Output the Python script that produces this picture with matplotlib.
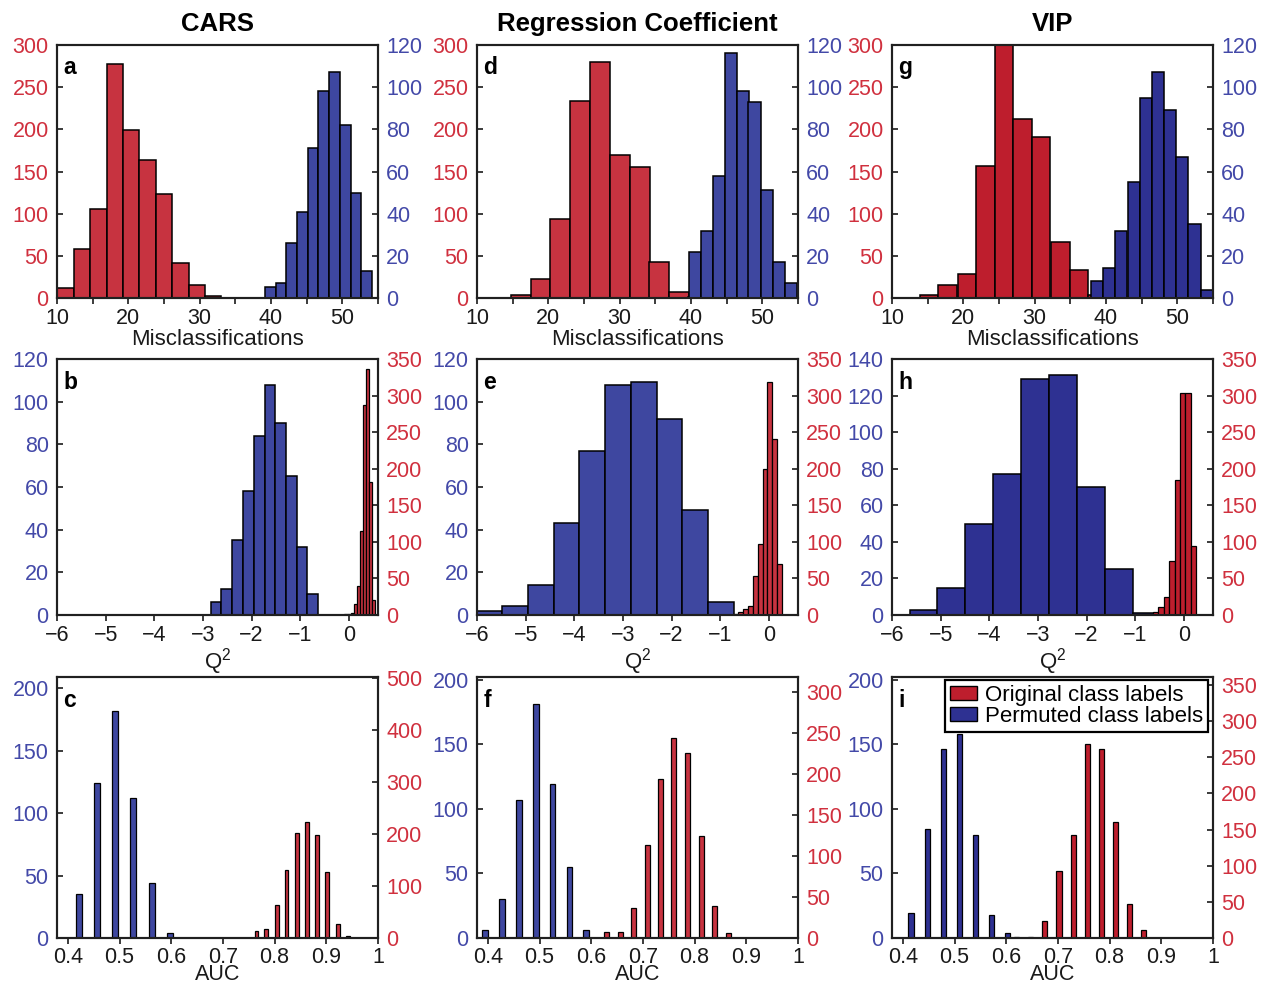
import numpy as np
import matplotlib
matplotlib.use("Agg")
import matplotlib.pyplot as plt
from matplotlib.patches import Patch

plt.rcParams['font.family'] = ['Liberation Sans', 'DejaVu Sans']
plt.rcParams['mathtext.fontset'] = 'custom'
plt.rcParams['mathtext.rm'] = 'Liberation Sans'
plt.rcParams['mathtext.it'] = 'Liberation Sans:italic'

column_titles = ["CARS", "Regression Coefficient", "VIP"]
panel_letters = [["a", "d", "g"], ["b", "e", "h"], ["c", "f", "i"]]
legend_labels = ["Original class labels", "Permuted class labels"]
row_xlabels = ["Misclassifications", "Q$^2$", "AUC"]

# ---- Misclassifications (bin centres / counts) ----
a_orig_x = [11.2, 13.5, 15.8, 18.1, 20.4, 22.7, 25.0, 27.3, 29.6, 31.9]
a_orig_n = [12, 58, 105, 277, 199, 164, 123, 41, 16, 2]
a_perm_x = [39.9, 41.4, 42.9, 44.4, 45.9, 47.4, 48.9, 50.4, 51.9, 53.4]
a_perm_n = [5, 7, 26, 41, 71, 98, 107, 82, 50, 13]

d_orig_x = [16.2, 18.9, 21.7, 24.5, 27.2, 30.0, 32.8, 35.5, 38.3, 41.0]
d_orig_n = [3, 22, 94, 234, 280, 170, 155, 43, 7, 1]
d_perm_x = [40.5, 42.2, 43.9, 45.6, 47.3, 48.9, 50.6, 52.3, 54.0]
d_perm_n = [22, 32, 58, 116, 98, 93, 51, 17, 7]

g_orig_x = [15.2, 17.8, 20.5, 23.1, 25.7, 28.3, 30.9, 33.6, 36.2, 38.8]
g_orig_n = [3, 15, 28, 156, 300, 212, 191, 66, 33, 4]
g_perm_x = [38.7, 40.4, 42.1, 43.9, 45.6, 47.3, 49.0, 50.7, 52.4, 54.1]
g_perm_n = [8, 14, 32, 55, 95, 107, 89, 67, 35, 4]

# ---- Q2 ----
b_perm_x = [-2.73, -2.51, -2.29, -2.06, -1.84, -1.62, -1.40, -1.18, -0.96, -0.74]
b_perm_n = [6, 12, 35, 58, 84, 108, 90, 65, 32, 10]
b_orig_x = [-0.058, 0.005, 0.068, 0.131, 0.194, 0.257, 0.320, 0.383, 0.446, 0.509]
b_orig_n = [1, 1, 3, 15, 40, 115, 287, 336, 182, 20]

e_perm_x = [-5.75, -5.22, -4.69, -4.16, -3.63, -3.10, -2.57, -2.04, -1.51, -0.98]
e_perm_n = [2, 4, 14, 43, 77, 108, 109, 92, 49, 6]
e_orig_x = [-0.676, -0.577, -0.477, -0.378, -0.279, -0.179, -0.080, 0.020, 0.119, 0.219]
e_orig_n = [1, 4, 8, 12, 53, 97, 200, 319, 240, 70]

h_perm_x = [-5.35, -4.78, -4.21, -3.63, -3.06, -2.49, -1.91, -1.34, -0.77]
h_perm_n = [3, 15, 50, 77, 129, 131, 70, 25, 1]
h_orig_x = [-0.810, -0.698, -0.585, -0.473, -0.360, -0.248, -0.135, -0.023, 0.090, 0.203]
h_orig_n = [1, 1, 4, 11, 25, 74, 185, 303, 304, 95]

# ---- AUC ----
c_perm_x = [0.421, 0.456, 0.491, 0.526, 0.562, 0.597]
c_perm_n = [35, 124, 182, 112, 44, 4]
c_orig_x = [0.765, 0.784, 0.804, 0.823, 0.843, 0.863, 0.882, 0.902, 0.922, 0.942]
c_orig_n = [13, 17, 63, 131, 202, 223, 198, 127, 27, 4]

f_perm_x = [0.395, 0.427, 0.460, 0.493, 0.525, 0.558, 0.590]
f_perm_n = [6, 30, 107, 181, 119, 55, 6]
f_orig_x = [0.630, 0.656, 0.682, 0.708, 0.734, 0.760, 0.786, 0.813, 0.839, 0.865]
f_orig_n = [7, 7, 37, 113, 194, 244, 226, 124, 39, 6]

i_perm_x = [0.416, 0.447, 0.478, 0.509, 0.540, 0.572, 0.603]
i_perm_n = [19, 84, 146, 158, 80, 18, 4]
i_orig_x = [0.620, 0.647, 0.674, 0.702, 0.730, 0.757, 0.784, 0.811, 0.838, 0.865]
i_orig_n = [2, 1, 24, 92, 142, 268, 262, 160, 47, 11]

# ---- styling ----
RED_AB = '#C73340'
BLUE_AB = '#3E47A0'
RED_C = '#BE1E2D'
BLUE_C = '#2E3192'
RED_TXT = '#D0303E'
BLUE_TXT = '#4349A8'
INK = '#1a1a1a'
FS = 15.5

W, H = 1263, 983
fig = plt.figure(figsize=(W / 100, H / 100), dpi=100)

col_px = [(57, 378), (477, 798), (892, 1213)]
row_px = [(45, 298), (359, 615), (677, 938)]


def px_axes(left, top, right, bottom):
    return fig.add_axes([left / W, 1 - bottom / H, (right - left) / W, (bottom - top) / H])


def bars(ax, x, n, color, frac, lw):
    x = np.asarray(x, float)
    step = np.median(np.diff(x))
    ax.bar(x, n, width=step * frac, color=color, edgecolor='black',
           linewidth=lw, align='center', zorder=2)


panels = [
    # row 0 : misclassifications (original on left axis)
    [dict(orig=(a_orig_x, a_orig_n), perm=(a_perm_x, a_perm_n), yl=(0, 300), yr=(0, 120)),
     dict(orig=(d_orig_x, d_orig_n), perm=(d_perm_x, d_perm_n), yl=(0, 300), yr=(0, 120)),
     dict(orig=(g_orig_x, g_orig_n), perm=(g_perm_x, g_perm_n), yl=(0, 300), yr=(0, 120))],
    # row 1 : Q2 (permuted on left axis)
    [dict(orig=(b_orig_x, b_orig_n), perm=(b_perm_x, b_perm_n), yl=(0, 120), yr=(0, 350)),
     dict(orig=(e_orig_x, e_orig_n), perm=(e_perm_x, e_perm_n), yl=(0, 120), yr=(0, 350)),
     dict(orig=(h_orig_x, h_orig_n), perm=(h_perm_x, h_perm_n), yl=(0, 140), yr=(0, 350))],
    # row 2 : AUC (permuted on left axis)
    [dict(orig=(c_orig_x, c_orig_n), perm=(c_perm_x, c_perm_n), yl=(0, 209), yr=(0, 502)),
     dict(orig=(f_orig_x, f_orig_n), perm=(f_perm_x, f_perm_n), yl=(0, 202), yr=(0, 318)),
     dict(orig=(i_orig_x, i_orig_n), perm=(i_perm_x, i_perm_n), yl=(0, 202), yr=(0, 361))],
]

yl_steps = [[50, 50, 50], [20, 20, 20], [50, 50, 50]]
yr_steps = [[20, 20, 20], [50, 50, 50], [100, 50, 50]]

for r in range(3):
    for c in range(3):
        p = panels[r][c]
        red = RED_AB if c < 2 else RED_C
        blue = BLUE_AB if c < 2 else BLUE_C
        left, right = col_px[c]
        top, bottom = row_px[r]
        ax = px_axes(left, top, right, bottom)
        tw = ax.twinx()

        if r == 0:
            bars(ax, *p['orig'], red, 1.0, 1.1)
            bars(tw, *p['perm'], blue, 1.0, 1.1)
            lcol, rcol = RED_TXT, BLUE_TXT
            ax.set_xlim(10, 55)
            ax.set_xticks(np.arange(10, 56, 5))
            ax.set_xticklabels([str(v) if v % 10 == 0 else '' for v in range(10, 56, 5)])
        elif r == 1:
            bars(ax, *p['perm'], blue, 1.0, 1.1)
            bars(tw, *p['orig'], red, 1.0, 0.9)
            lcol, rcol = BLUE_TXT, RED_TXT
            ax.set_xlim(-6, 0.6)
            ticks = np.arange(-6, 1, 1)
            ax.set_xticks(ticks)
            ax.set_xticklabels(['\u2212%d' % -t if t < 0 else '0' for t in ticks])
        else:
            bars(ax, *p['perm'], blue, 0.33, 0.9)
            bars(tw, *p['orig'], red, 0.38, 0.9)
            lcol, rcol = BLUE_TXT, RED_TXT
            ax.set_xlim(0.379, 1.0)
            ticks = [0.4, 0.5, 0.6, 0.7, 0.8, 0.9, 1.0]
            ax.set_xticks(ticks)
            ax.set_xticklabels(['0.4', '0.5', '0.6', '0.7', '0.8', '0.9', '1'])

        ax.set_ylim(*p['yl'])
        tw.set_ylim(*p['yr'])
        ax.set_yticks(np.arange(0, p['yl'][1] + 0.1, yl_steps[r][c]))
        tw.set_yticks(np.arange(0, p['yr'][1] + 0.1, yr_steps[r][c]))

        ax.tick_params(axis='x', direction='out', length=4, width=1.2,
                       labelsize=FS, pad=2.5 if r == 2 else 3, colors=INK)
        ax.tick_params(axis='y', direction='in', length=4, width=1.2,
                       labelsize=FS, pad=6, labelcolor=lcol, color=INK)
        tw.tick_params(axis='y', direction='in', length=4, width=1.2,
                       labelsize=FS, pad=6, labelcolor=rcol, color=INK)
        for a in (ax, tw):
            for s in a.spines.values():
                s.set_linewidth(1.5)
                s.set_color('#202020')

        if r < 2:
            ax.set_xlabel(row_xlabels[r], fontsize=FS + 0.5, color=INK, labelpad=0)
        else:
            # AUC label sits tight under the tick labels, near the bottom edge
            ax.text(0.5, -0.1, row_xlabels[r], transform=ax.transAxes,
                    ha='center', va='top', fontsize=FS, color=INK)
        ax.text(0.02, 0.955, panel_letters[r][c], transform=ax.transAxes,
                ha='left', va='top', fontsize=16.5, fontweight='bold',
                color='black', zorder=5)

        if r == 0:
            fig.text((left + right) / 2 / W, 1 - 24 / H, column_titles[c],
                     ha='center', va='center', fontsize=18.5,
                     fontweight='bold', color='black')

        if r == 2 and c == 2:
            handles = [Patch(facecolor=red, edgecolor='black', linewidth=1.0),
                       Patch(facecolor=blue, edgecolor='black', linewidth=1.0)]
            leg = tw.legend(handles, legend_labels, loc='upper right',
                            bbox_to_anchor=(0.985, 0.988), borderaxespad=0,
                            fontsize=16, frameon=True, fancybox=False,
                            framealpha=1, edgecolor='black',
                            handlelength=1.25, handleheight=0.55,
                            handletextpad=0.35, labelspacing=0.0,
                            borderpad=0.22)
            leg.get_frame().set_linewidth(1.6)

fig.savefig('out.png', dpi=100)
